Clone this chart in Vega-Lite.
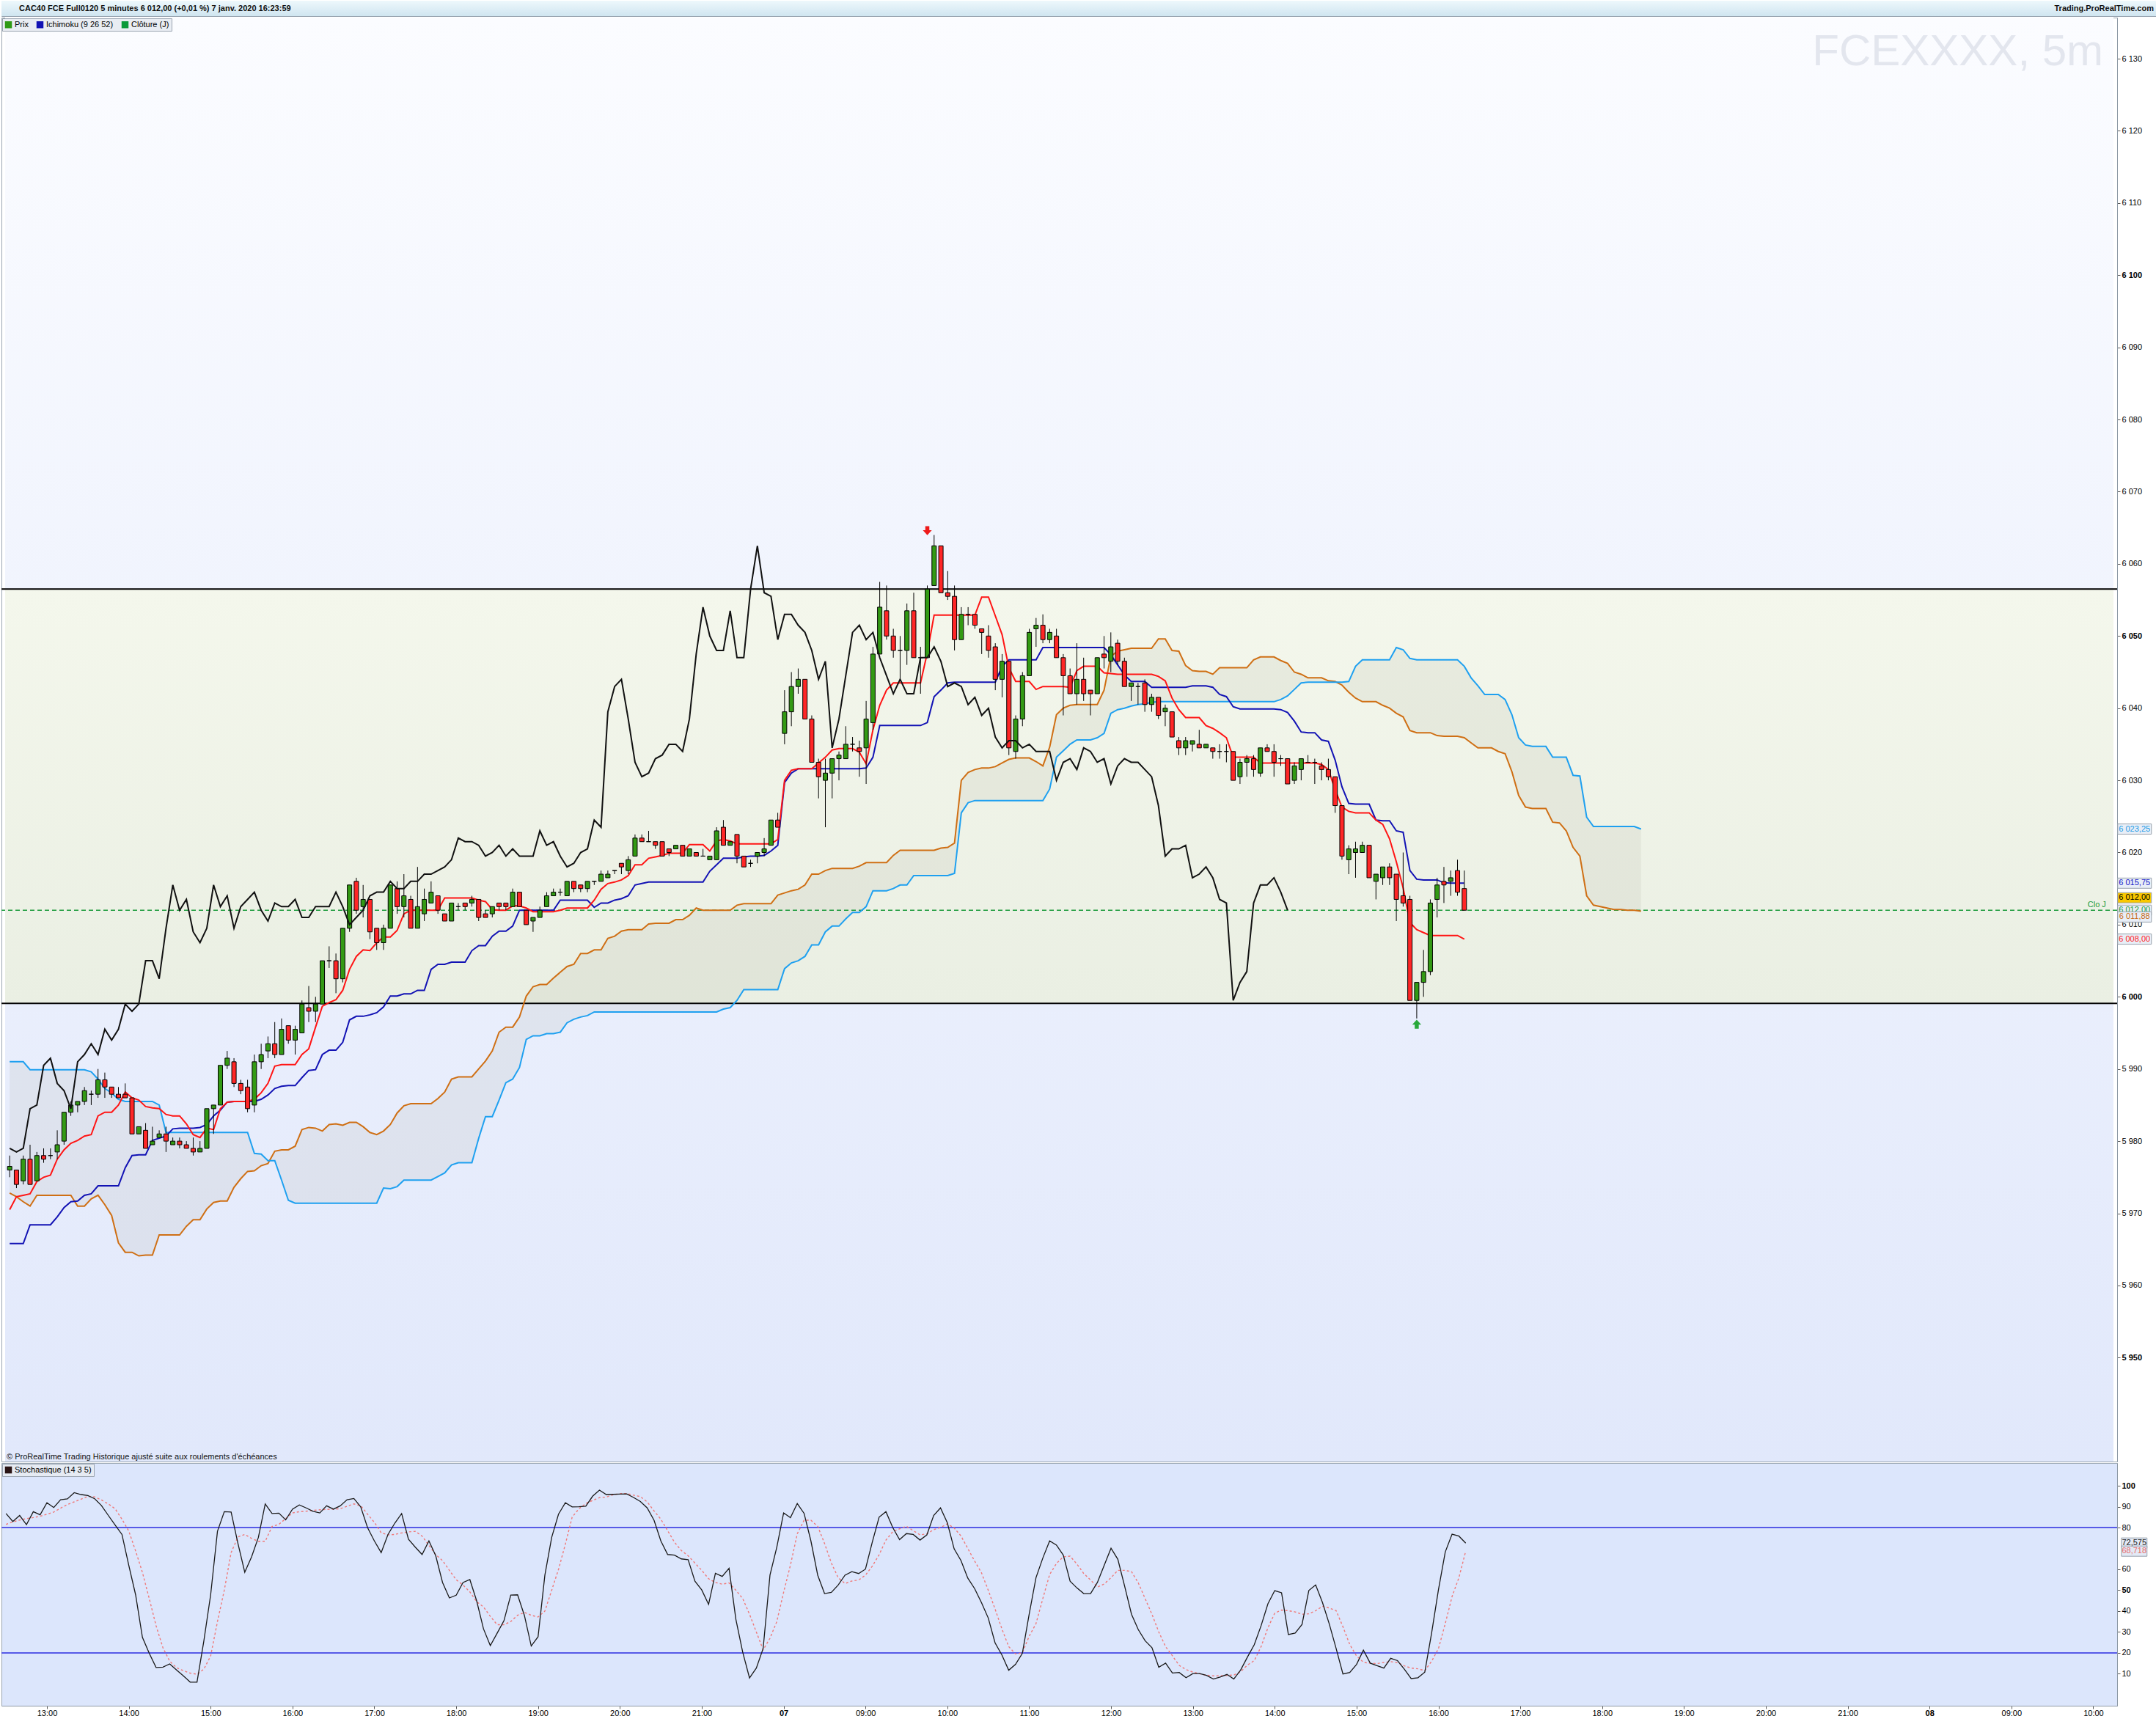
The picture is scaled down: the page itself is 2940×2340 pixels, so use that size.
{
  "$schema": "https://vega.github.io/schema/vega-lite/v6.json",
  "background": "#ffffff",
  "padding": 0,
  "spacing": 0,
  "config": {
    "font": "Liberation Sans",
    "locale": {"number": {"decimal": ",", "thousands": " ", "grouping": [3], "currency": ["", " €"]}},
    "view": {"stroke": null},
    "axis": {"grid": false, "labelFont": "Liberation Sans", "labelFontSize": 11, "labelColor": "#000000", "domainColor": "#8e9aa6", "tickColor": "#5a5a5a", "tickSize": 4, "labelPadding": 2}
  },
  "resolve": {
    "scale": {"x": "independent", "y": "independent", "color": "independent", "fill": "independent"},
    "axis": {"x": "independent", "y": "independent"},
    "legend": {"color": "independent"}
  },
  "datasets": {
    "bars": [
{"i":0,"o":5976,"h":5978,"l":5975,"c":5976.5,"t":5970.5,"k":5965.8,"a":5972.8,"b":5991,"ch":5979,"sk":86.7,"sd":81.5},
{"i":1,"o":5976,"h":5976,"l":5973.5,"c":5974,"t":5972.3,"k":5965.8,"a":5972.3,"b":5991,"ch":5978.5,"sk":82.9,"sd":82.7},
{"i":2,"o":5974.5,"h":5978,"l":5974,"c":5977.5,"t":5972.5,"k":5965.8,"a":5971.6,"b":5991,"ch":5979,"sk":85.8,"sd":83.6},
{"i":3,"o":5977.5,"h":5979.5,"l":5974,"c":5974,"t":5972.7,"k":5968.4,"a":5971,"b":5989.9,"ch":5984.5,"sk":81.4,"sd":84.3},
{"i":4,"o":5974.5,"h":5978.5,"l":5974.5,"c":5978,"t":5974.4,"k":5968.4,"a":5972.5,"b":5989.9,"ch":5985,"sk":87.6,"sd":84.8},
{"i":5,"o":5978,"h":5979,"l":5977,"c":5977.5,"t":5975,"k":5968.4,"a":5972.5,"b":5989.9,"ch":5990.5,"sk":86.1,"sd":85.4},
{"i":6,"o":5978,"h":5979,"l":5977.5,"c":5978,"t":5975.3,"k":5968.4,"a":5972.5,"b":5989.9,"ch":5991.5,"sk":91.9,"sd":86.4},
{"i":7,"o":5978.5,"h":5981.5,"l":5977.5,"c":5979.5,"t":5977.5,"k":5969.5,"a":5972.5,"b":5989.9,"ch":5988,"sk":89.6,"sd":87.4},
{"i":8,"o":5980,"h":5984,"l":5979.5,"c":5984,"t":5978.8,"k":5970.8,"a":5972.5,"b":5989.9,"ch":5987,"sk":93.3,"sd":89.3},
{"i":9,"o":5984,"h":5985.5,"l":5983.5,"c":5985,"t":5979.7,"k":5971.6,"a":5972.5,"b":5989.9,"ch":5984.5,"sk":93.7,"sd":91},
{"i":10,"o":5985,"h":5985.5,"l":5984,"c":5985.5,"t":5980.1,"k":5971.7,"a":5971,"b":5989.9,"ch":5991,"sk":96.7,"sd":92.3},
{"i":11,"o":5985.5,"h":5987.5,"l":5985,"c":5987,"t":5980.7,"k":5972.5,"a":5971,"b":5989.9,"ch":5992,"sk":95.8,"sd":93.6},
{"i":12,"o":5986.5,"h":5987,"l":5985,"c":5986.5,"t":5980.9,"k":5972.7,"a":5972,"b":5989.6,"ch":5993.5,"sk":95.3,"sd":94.9},
{"i":13,"o":5986.5,"h":5990,"l":5986,"c":5988.5,"t":5983.5,"k":5973.8,"a":5972.5,"b":5988.6,"ch":5992,"sk":93.8,"sd":94.7},
{"i":14,"o":5988.5,"h":5989.5,"l":5986,"c":5987.5,"t":5984,"k":5973.8,"a":5971.2,"b":5987.3,"ch":5995.5,"sk":90.5,"sd":93.2},
{"i":15,"o":5987.5,"h":5987.5,"l":5986,"c":5986.5,"t":5984,"k":5973.8,"a":5969.7,"b":5986.7,"ch":5994,"sk":85.8,"sd":91.3},
{"i":16,"o":5986.5,"h":5987.5,"l":5986,"c":5986,"t":5985,"k":5973.8,"a":5965.9,"b":5985.8,"ch":5995.5,"sk":81.2,"sd":89},
{"i":17,"o":5986.5,"h":5988,"l":5986,"c":5986,"t":5986.8,"k":5976.3,"a":5964.6,"b":5985.5,"ch":5999,"sk":76.7,"sd":84},
{"i":18,"o":5986,"h":5986,"l":5981,"c":5981,"t":5986,"k":5978,"a":5964.6,"b":5985.5,"ch":5998,"sk":61.9,"sd":78.3},
{"i":19,"o":5981,"h":5982,"l":5981,"c":5982,"t":5985.7,"k":5978.1,"a":5964.1,"b":5985.5,"ch":5999,"sk":47.8,"sd":68.8},
{"i":20,"o":5981.5,"h":5982.5,"l":5979,"c":5979,"t":5984.8,"k":5978.1,"a":5964.2,"b":5985.5,"ch":6005,"sk":27.4,"sd":58.5},
{"i":21,"o":5979.5,"h":5982,"l":5979.5,"c":5980,"t":5984.6,"k":5980.1,"a":5964.2,"b":5985.5,"ch":6005,"sk":19.8,"sd":46},
{"i":22,"o":5980.5,"h":5981.5,"l":5980.5,"c":5981,"t":5984.5,"k":5980.4,"a":5967,"b":5985,"ch":6002.5,"sk":13,"sd":33},
{"i":23,"o":5981,"h":5982,"l":5978.5,"c":5980,"t":5983.7,"k":5980.7,"a":5967,"b":5981.2,"ch":6009.5,"sk":13.2,"sd":22.5},
{"i":24,"o":5979.5,"h":5980.5,"l":5979.5,"c":5980,"t":5983.5,"k":5981.7,"a":5967,"b":5981.2,"ch":6015.5,"sk":14.7,"sd":16},
{"i":25,"o":5980,"h":5980.5,"l":5979,"c":5979.5,"t":5983.5,"k":5981.8,"a":5967,"b":5981.2,"ch":6012,"sk":11.8,"sd":12.9},
{"i":26,"o":5979.5,"h":5980,"l":5979,"c":5979,"t":5982.4,"k":5981.8,"a":5968.2,"b":5981.2,"ch":6013.5,"sk":9,"sd":11.5},
{"i":27,"o":5979,"h":5980.5,"l":5978,"c":5978.5,"t":5980.9,"k":5981.8,"a":5969.1,"b":5981.2,"ch":6009,"sk":6,"sd":10.3},
{"i":28,"o":5978.5,"h":5980,"l":5978.5,"c":5979,"t":5980.5,"k":5981.9,"a":5969.1,"b":5981.2,"ch":6007.5,"sk":6,"sd":9.8},
{"i":29,"o":5979,"h":5984.5,"l":5979,"c":5984.5,"t":5981.8,"k":5982.3,"a":5970.6,"b":5981.2,"ch":6009.5,"sk":25.6,"sd":12.2},
{"i":30,"o":5984.5,"h":5985,"l":5981,"c":5985,"t":5981.6,"k":5983.5,"a":5971.5,"b":5981.2,"ch":6015.5,"sk":47.8,"sd":18.5},
{"i":31,"o":5985,"h":5990.5,"l":5985,"c":5990.5,"t":5984.5,"k":5984.3,"a":5971.7,"b":5981.2,"ch":6012.5,"sk":78.2,"sd":35},
{"i":32,"o":5990.5,"h":5992.5,"l":5990,"c":5991.5,"t":5985.4,"k":5985.4,"a":5971.7,"b":5981.2,"ch":6014,"sk":87.6,"sd":50},
{"i":33,"o":5991,"h":5991.5,"l":5987.5,"c":5988,"t":5985.5,"k":5985.5,"a":5973.6,"b":5981.2,"ch":6009.5,"sk":87.4,"sd":68},
{"i":34,"o":5988,"h":5988.5,"l":5986.5,"c":5987,"t":5985.5,"k":5985.5,"a":5974.8,"b":5981.2,"ch":6012.5,"sk":72.4,"sd":75.5},
{"i":35,"o":5987.5,"h":5988.5,"l":5984,"c":5984.5,"t":5985.5,"k":5985.5,"a":5975.8,"b":5981.2,"ch":6013.5,"sk":58.6,"sd":76.7},
{"i":36,"o":5985,"h":5992,"l":5984,"c":5991,"t":5985.8,"k":5985.5,"a":5975.9,"b":5978.3,"ch":6014.5,"sk":66,"sd":74.8},
{"i":37,"o":5991,"h":5993.5,"l":5990,"c":5992,"t":5986.7,"k":5985.8,"a":5976.6,"b":5978.2,"ch":6012,"sk":75.3,"sd":73.4},
{"i":38,"o":5992.5,"h":5994.5,"l":5991.5,"c":5993.5,"t":5988,"k":5986.4,"a":5976.9,"b":5977.3,"ch":6010.5,"sk":91.3,"sd":73.4},
{"i":39,"o":5993.5,"h":5996.5,"l":5991.5,"c":5992,"t":5990.4,"k":5987.3,"a":5978.6,"b":5977.3,"ch":6013,"sk":86.7,"sd":80.5},
{"i":40,"o":5992,"h":5997,"l":5992,"c":5995.5,"t":5990.6,"k":5987.6,"a":5978.8,"b":5974.6,"ch":6012.5,"sk":86.9,"sd":81.5},
{"i":41,"o":5996,"h":5996,"l":5993.5,"c":5994,"t":5990.6,"k":5987.7,"a":5978.8,"b":5971.8,"ch":6012.5,"sk":83.7,"sd":84.3},
{"i":42,"o":5994,"h":5996,"l":5992,"c":5995.5,"t":5990.6,"k":5987.7,"a":5979.3,"b":5971.4,"ch":6013.5,"sk":88.8,"sd":87},
{"i":43,"o":5995,"h":5999.5,"l":5995,"c":5999,"t":5992,"k":5988.8,"a":5981.6,"b":5971.4,"ch":6011,"sk":90.8,"sd":87.6},
{"i":44,"o":5998.5,"h":6001.5,"l":5996.5,"c":5998,"t":5992.8,"k":5989.8,"a":5981.9,"b":5971.4,"ch":6011,"sk":89.4,"sd":87.8},
{"i":45,"o":5998,"h":6000,"l":5996.5,"c":5999,"t":5995.8,"k":5989.9,"a":5981.8,"b":5971.4,"ch":6012.5,"sk":87.8,"sd":88.2},
{"i":46,"o":5999,"h":6005,"l":5999,"c":6005,"t":5998.7,"k":5992,"a":5981.4,"b":5971.4,"ch":6012.5,"sk":87,"sd":88.5},
{"i":47,"o":6005,"h":6007,"l":6004,"c":6005,"t":5999.2,"k":5992.6,"a":5982.3,"b":5971.4,"ch":6012.5,"sk":90.4,"sd":88.7},
{"i":48,"o":6005,"h":6006,"l":6000.5,"c":6002.5,"t":5999.6,"k":5992.6,"a":5982.4,"b":5971.4,"ch":6014.5,"sk":88.8,"sd":88.8},
{"i":49,"o":6002.5,"h":6009.5,"l":6002,"c":6009.5,"t":6000.9,"k":5993.7,"a":5982.2,"b":5971.4,"ch":6012.5,"sk":90.4,"sd":89},
{"i":50,"o":6009.5,"h":6015.5,"l":6009,"c":6015.5,"t":6003.8,"k":5996.8,"a":5982.6,"b":5971.4,"ch":6010,"sk":93.3,"sd":90.2},
{"i":51,"o":6016,"h":6016.5,"l":6011.5,"c":6012,"t":6005.6,"k":5997.3,"a":5982.6,"b":5971.4,"ch":6011,"sk":93.9,"sd":91.3},
{"i":52,"o":6012.5,"h":6015.5,"l":6011,"c":6013.5,"t":6006.5,"k":5997.3,"a":5982,"b":5971.4,"ch":6012,"sk":89.9,"sd":90.5},
{"i":53,"o":6013.5,"h":6013.5,"l":6008,"c":6009,"t":6006.4,"k":5997.5,"a":5981.2,"b":5971.4,"ch":6014,"sk":80,"sd":86.4},
{"i":54,"o":6009.5,"h":6009.5,"l":6006.5,"c":6007.5,"t":6007.5,"k":5997.8,"a":5980.9,"b":5971.4,"ch":6014.5,"sk":73.6,"sd":82.5},
{"i":55,"o":6007.5,"h":6010,"l":6006.5,"c":6009.5,"t":6008.3,"k":5998.6,"a":5981.4,"b":5973.5,"ch":6014.5,"sk":68,"sd":77.5},
{"i":56,"o":6009.5,"h":6015.5,"l":6009.5,"c":6015.5,"t":6008.3,"k":6000.1,"a":5982.3,"b":5973.4,"ch":6016,"sk":76.7,"sd":76.5},
{"i":57,"o":6015,"h":6016,"l":6011.5,"c":6012.5,"t":6009.2,"k":6000.1,"a":5983.9,"b":5973.7,"ch":6015,"sk":82.1,"sd":76.7},
{"i":58,"o":6012.5,"h":6017,"l":6011,"c":6014,"t":6011.5,"k":6000.4,"a":5984.9,"b":5974.6,"ch":6015,"sk":86.7,"sd":77.4},
{"i":59,"o":6013.5,"h":6014,"l":6009.5,"c":6009.5,"t":6012,"k":6000.4,"a":5985.2,"b":5974.6,"ch":6016,"sk":74.4,"sd":77.9},
{"i":60,"o":6009.5,"h":6018,"l":6009.5,"c":6012.5,"t":6012,"k":6000.9,"a":5985.2,"b":5974.6,"ch":6016,"sk":70.6,"sd":78.2},
{"i":61,"o":6011.5,"h":6015,"l":6010.5,"c":6013.5,"t":6012,"k":6000.9,"a":5985.2,"b":5974.6,"ch":6017,"sk":67.1,"sd":75.9},
{"i":62,"o":6013,"h":6016,"l":6013,"c":6014.5,"t":6012,"k":6003.8,"a":5985.2,"b":5974.6,"ch":6017,"sk":73.6,"sd":71.5},
{"i":63,"o":6014,"h":6014,"l":6011.5,"c":6012,"t":6012,"k":6004.5,"a":5985.9,"b":5975.1,"ch":6017.5,"sk":66.5,"sd":67},
{"i":64,"o":6011.5,"h":6011.5,"l":6010.5,"c":6010.5,"t":6013.7,"k":6004.5,"a":5986.8,"b":5975.6,"ch":6018,"sk":53.7,"sd":64.2},
{"i":65,"o":6010.5,"h":6013,"l":6010.5,"c":6013,"t":6013.7,"k":6004.8,"a":5988.6,"b":5976.7,"ch":6019,"sk":46.3,"sd":59.5},
{"i":66,"o":6012.5,"h":6013,"l":6012,"c":6012.5,"t":6013.7,"k":6004.8,"a":5988.9,"b":5977,"ch":6022,"sk":47.6,"sd":55},
{"i":67,"o":6013,"h":6013,"l":6012,"c":6012.5,"t":6013.7,"k":6004.8,"a":5988.9,"b":5977,"ch":6021.5,"sk":53.7,"sd":52.5},
{"i":68,"o":6013,"h":6014,"l":6012.5,"c":6013.5,"t":6013.7,"k":6006.4,"a":5988.9,"b":5977,"ch":6021.5,"sk":55.1,"sd":49.2},
{"i":69,"o":6013.5,"h":6013.5,"l":6010.5,"c":6011,"t":6013.4,"k":6007.1,"a":5990,"b":5980.4,"ch":6021,"sk":44.9,"sd":44.5},
{"i":70,"o":6011.5,"h":6012,"l":6011,"c":6011,"t":6013.2,"k":6007.1,"a":5991.1,"b":5983.4,"ch":6019.5,"sk":31.5,"sd":42},
{"i":71,"o":6011.5,"h":6012.5,"l":6011,"c":6012.5,"t":6012.1,"k":6008.4,"a":5992.5,"b":5983.4,"ch":6020,"sk":23.5,"sd":37.5},
{"i":72,"o":6013,"h":6013,"l":6012,"c":6012.5,"t":6012,"k":6009.1,"a":5995.1,"b":5985.7,"ch":6021,"sk":29.4,"sd":33.5},
{"i":73,"o":6013,"h":6013,"l":6012,"c":6012.5,"t":6012,"k":6009.1,"a":5995.8,"b":5988.1,"ch":6019.5,"sk":35.4,"sd":33.5},
{"i":74,"o":6012.5,"h":6015,"l":6012.5,"c":6014.5,"t":6012.6,"k":6009.8,"a":5995.8,"b":5988.6,"ch":6020.5,"sk":47.7,"sd":35},
{"i":75,"o":6014.5,"h":6014.5,"l":6012.5,"c":6012.5,"t":6012.6,"k":6012,"a":5997.2,"b":5990.2,"ch":6019.5,"sk":47.8,"sd":38},
{"i":76,"o":6012,"h":6012,"l":6010,"c":6010,"t":6012.3,"k":6012,"a":6000.1,"b":5994.1,"ch":6019.5,"sk":37.9,"sd":39.4},
{"i":77,"o":6010.5,"h":6011,"l":6009,"c":6011,"t":6011.8,"k":6012,"a":6001.4,"b":5994.6,"ch":6019.5,"sk":23.3,"sd":38},
{"i":78,"o":6011,"h":6012.5,"l":6011,"c":6012,"t":6011.8,"k":6012,"a":6001.7,"b":5994.6,"ch":6023,"sk":27.7,"sd":37.2},
{"i":79,"o":6012.5,"h":6014.5,"l":6012.5,"c":6014,"t":6011.8,"k":6012,"a":6001.7,"b":5994.9,"ch":6021,"sk":57.2,"sd":40},
{"i":80,"o":6014,"h":6015,"l":6014,"c":6014.5,"t":6011.8,"k":6012,"a":6002.6,"b":5994.9,"ch":6021.5,"sk":75.3,"sd":50},
{"i":81,"o":6014.5,"h":6015,"l":6014,"c":6014.5,"t":6012,"k":6013.4,"a":6003.4,"b":5995.1,"ch":6019.5,"sk":86.4,"sd":60},
{"i":82,"o":6014,"h":6016,"l":6014,"c":6016,"t":6012.3,"k":6013.4,"a":6004.2,"b":5996.4,"ch":6018,"sk":91.9,"sd":72},
{"i":83,"o":6016,"h":6016,"l":6014.5,"c":6015,"t":6012.3,"k":6013.4,"a":6004.5,"b":5996.9,"ch":6018.5,"sk":89.9,"sd":85},
{"i":84,"o":6015.5,"h":6015.5,"l":6014.5,"c":6015,"t":6012.3,"k":6013.4,"a":6006,"b":5997.2,"ch":6020,"sk":90,"sd":89},
{"i":85,"o":6015,"h":6016,"l":6014.5,"c":6016,"t":6012.3,"k":6013.4,"a":6006,"b":5997.4,"ch":6020.5,"sk":90.2,"sd":91.5},
{"i":86,"o":6016,"h":6016,"l":6015.5,"c":6016,"t":6013.4,"k":6012.4,"a":6006.5,"b":5997.9,"ch":6024.5,"sk":95,"sd":93},
{"i":87,"o":6016,"h":6017.5,"l":6016,"c":6017,"t":6014.9,"k":6013,"a":6006.5,"b":5997.9,"ch":6023.5,"sk":97.9,"sd":94.3},
{"i":88,"o":6016.5,"h":6017.5,"l":6016.5,"c":6017,"t":6015.7,"k":6013,"a":6008.1,"b":5997.9,"ch":6039.5,"sk":95.8,"sd":94.6},
{"i":89,"o":6017.5,"h":6017.5,"l":6017,"c":6017.5,"t":6015.9,"k":6013.4,"a":6008.4,"b":5997.9,"ch":6043,"sk":95.9,"sd":95.7},
{"i":90,"o":6018.5,"h":6018.5,"l":6017,"c":6018,"t":6016.2,"k":6013.6,"a":6009.1,"b":5997.9,"ch":6044,"sk":96,"sd":96.2},
{"i":91,"o":6017.5,"h":6019.5,"l":6017,"c":6019,"t":6016.8,"k":6014,"a":6009.3,"b":5997.9,"ch":6038.5,"sk":96.1,"sd":96.3},
{"i":92,"o":6019.5,"h":6022.5,"l":6019.5,"c":6022,"t":6018.3,"k":6015.5,"a":6009.3,"b":5997.9,"ch":6032.5,"sk":94.4,"sd":95.5},
{"i":93,"o":6022,"h":6022.5,"l":6021.5,"c":6021.5,"t":6018.3,"k":6015.7,"a":6009.3,"b":5997.9,"ch":6030.5,"sk":92.5,"sd":94.8},
{"i":94,"o":6021.5,"h":6023,"l":6021.5,"c":6021.5,"t":6019.2,"k":6015.9,"a":6010.1,"b":5997.9,"ch":6031,"sk":89.4,"sd":92.3},
{"i":95,"o":6021.5,"h":6021.5,"l":6020.5,"c":6021,"t":6019.4,"k":6015.9,"a":6010.2,"b":5997.9,"ch":6033,"sk":83.5,"sd":88},
{"i":96,"o":6021.5,"h":6021.5,"l":6019.5,"c":6019.5,"t":6019.6,"k":6015.9,"a":6010.2,"b":5997.9,"ch":6033.5,"sk":73.6,"sd":84},
{"i":97,"o":6020.5,"h":6020.5,"l":6019.5,"c":6020,"t":6019.9,"k":6015.9,"a":6010.2,"b":5997.9,"ch":6035,"sk":67.1,"sd":78.5},
{"i":98,"o":6020.5,"h":6021,"l":6020.5,"c":6021,"t":6019.9,"k":6015.9,"a":6010.7,"b":5997.9,"ch":6035,"sk":66.8,"sd":73},
{"i":99,"o":6021,"h":6021,"l":6019.5,"c":6019.5,"t":6019.9,"k":6015.9,"a":6010.7,"b":5997.9,"ch":6034,"sk":65,"sd":69},
{"i":100,"o":6019.5,"h":6020.5,"l":6019.5,"c":6020.5,"t":6021.1,"k":6015.9,"a":6011.3,"b":5997.9,"ch":6038.5,"sk":64.6,"sd":66.5},
{"i":101,"o":6020,"h":6020,"l":6019.5,"c":6019.5,"t":6021.1,"k":6015.9,"a":6012.3,"b":5997.9,"ch":6047.5,"sk":54.3,"sd":63},
{"i":102,"o":6019.5,"h":6020.5,"l":6019.5,"c":6019.5,"t":6021.1,"k":6015.9,"a":6012,"b":5997.9,"ch":6054,"sk":50.1,"sd":59.5},
{"i":103,"o":6019,"h":6019.5,"l":6019,"c":6019.5,"t":6020.2,"k":6017.4,"a":6012,"b":5997.9,"ch":6050,"sk":43.2,"sd":55.5},
{"i":104,"o":6019,"h":6023.5,"l":6019,"c":6023,"t":6021.6,"k":6018.3,"a":6012,"b":5997.9,"ch":6048,"sk":58.1,"sd":53.7},
{"i":105,"o":6023.5,"h":6024.5,"l":6021,"c":6021,"t":6021.8,"k":6019.2,"a":6012,"b":5998.3,"ch":6048,"sk":56.6,"sd":52.9},
{"i":106,"o":6021,"h":6021.5,"l":6021,"c":6021.5,"t":6021.6,"k":6019.2,"a":6012,"b":5998.5,"ch":6053.5,"sk":60.5,"sd":53.5},
{"i":107,"o":6022.5,"h":6022.5,"l":6018.5,"c":6019.5,"t":6021.2,"k":6019.2,"a":6012.7,"b":5999.5,"ch":6047,"sk":36.1,"sd":50},
{"i":108,"o":6019.5,"h":6019.5,"l":6018,"c":6018,"t":6021.2,"k":6019.4,"a":6012.9,"b":6001,"ch":6047,"sk":20.4,"sd":46},
{"i":109,"o":6018.5,"h":6019,"l":6018,"c":6018.5,"t":6021.2,"k":6019.5,"a":6012.9,"b":6001,"ch":6056.5,"sk":8,"sd":38.5},
{"i":110,"o":6019.5,"h":6020,"l":6018.5,"c":6020,"t":6021.2,"k":6019.5,"a":6012.9,"b":6001,"ch":6062.5,"sk":12.7,"sd":30},
{"i":111,"o":6020,"h":6022,"l":6019.5,"c":6020.5,"t":6021.2,"k":6019.6,"a":6012.9,"b":6001,"ch":6056,"sk":22.1,"sd":21.5},
{"i":112,"o":6021,"h":6024.5,"l":6021,"c":6024.5,"t":6021.2,"k":6020.2,"a":6012.9,"b":6001,"ch":6055.5,"sk":57.2,"sd":27},
{"i":113,"o":6024.5,"h":6025.5,"l":6023.5,"c":6023.5,"t":6021.8,"k":6021,"a":6014.1,"b":6001,"ch":6049.5,"sk":70.6,"sd":35},
{"i":114,"o":6036.5,"h":6042.5,"l":6035,"c":6039.5,"t":6030,"k":6029.7,"a":6014.4,"b":6003.9,"ch":6053,"sk":87,"sd":49},
{"i":115,"o":6039.5,"h":6045,"l":6037.5,"c":6043,"t":6031.4,"k":6031,"a":6014.7,"b":6004.7,"ch":6053,"sk":84.7,"sd":62},
{"i":116,"o":6043,"h":6045.5,"l":6042,"c":6044,"t":6031.6,"k":6031.6,"a":6014.9,"b":6005,"ch":6051.5,"sk":91.5,"sd":77},
{"i":117,"o":6044,"h":6044,"l":6038.5,"c":6038.5,"t":6031.6,"k":6031.6,"a":6015.5,"b":6005.6,"ch":6050.5,"sk":86.8,"sd":83.5},
{"i":118,"o":6038.5,"h":6039,"l":6032.5,"c":6032.5,"t":6031.6,"k":6031.6,"a":6017,"b":6007.2,"ch":6048,"sk":73.6,"sd":83.5},
{"i":119,"o":6032.5,"h":6033,"l":6027.5,"c":6030.5,"t":6032.4,"k":6031.6,"a":6017,"b":6007.2,"ch":6044,"sk":57.2,"sd":80.6},
{"i":120,"o":6030,"h":6033,"l":6023.5,"c":6031,"t":6033.2,"k":6031.6,"a":6017.5,"b":6009,"ch":6046.5,"sk":48.4,"sd":72.4},
{"i":121,"o":6031,"h":6033,"l":6027.5,"c":6033,"t":6034.2,"k":6031.6,"a":6017.8,"b":6009.8,"ch":6034.5,"sk":49,"sd":63},
{"i":122,"o":6033,"h":6034,"l":6030,"c":6033.5,"t":6034.4,"k":6031.6,"a":6017.8,"b":6009.8,"ch":6038.5,"sk":52.5,"sd":56},
{"i":123,"o":6033,"h":6037.5,"l":6033,"c":6035,"t":6034.4,"k":6031.6,"a":6017.8,"b":6010.8,"ch":6044.5,"sk":57.2,"sd":53.2},
{"i":124,"o":6035,"h":6036,"l":6034,"c":6035,"t":6034.4,"k":6031.6,"a":6017.8,"b":6011.7,"ch":6050.5,"sk":58.9,"sd":54.4},
{"i":125,"o":6034.5,"h":6035.5,"l":6030.5,"c":6034,"t":6033.9,"k":6031.6,"a":6018.1,"b":6011.7,"ch":6051.5,"sk":58,"sd":54.9},
{"i":126,"o":6034.5,"h":6041,"l":6029.5,"c":6038.5,"t":6032.3,"k":6031.7,"a":6018.6,"b":6012.5,"ch":6049.5,"sk":60.1,"sd":57.2},
{"i":127,"o":6038,"h":6048.5,"l":6037,"c":6047.5,"t":6037,"k":6033.2,"a":6018.6,"b":6014.7,"ch":6050.5,"sk":73,"sd":61.5},
{"i":128,"o":6047.5,"h":6057.5,"l":6047.5,"c":6054,"t":6040.4,"k":6037.6,"a":6018.6,"b":6014.7,"ch":6047,"sk":85,"sd":67},
{"i":129,"o":6053.5,"h":6057,"l":6049.5,"c":6050,"t":6042.5,"k":6037.6,"a":6018.6,"b":6014.7,"ch":6044.5,"sk":87.6,"sd":74},
{"i":130,"o":6050,"h":6051,"l":6047,"c":6048,"t":6043.5,"k":6037.6,"a":6019.6,"b":6015,"ch":6042,"sk":80,"sd":78},
{"i":131,"o":6048,"h":6050,"l":6044,"c":6048,"t":6043.5,"k":6037.6,"a":6020.3,"b":6015.5,"ch":6044,"sk":74.2,"sd":79.4},
{"i":132,"o":6048,"h":6054.5,"l":6046,"c":6053.5,"t":6043.5,"k":6037.6,"a":6020.3,"b":6015.5,"ch":6042,"sk":77.1,"sd":80.6},
{"i":133,"o":6053.5,"h":6056,"l":6047,"c":6047,"t":6043.5,"k":6037.6,"a":6020.3,"b":6016.8,"ch":6042,"sk":76.7,"sd":78.5},
{"i":134,"o":6047,"h":6048.5,"l":6042,"c":6047,"t":6043.5,"k":6037.6,"a":6020.3,"b":6016.8,"ch":6047,"sk":74,"sd":76.5},
{"i":135,"o":6047,"h":6057,"l":6047,"c":6056.5,"t":6047.7,"k":6038,"a":6020.3,"b":6016.8,"ch":6047,"sk":76.5,"sd":77},
{"i":136,"o":6057,"h":6064,"l":6057,"c":6062.5,"t":6052.9,"k":6041.6,"a":6020.3,"b":6016.8,"ch":6048.5,"sk":85.8,"sd":79},
{"i":137,"o":6062.5,"h":6062.5,"l":6056,"c":6056,"t":6052.9,"k":6042.5,"a":6020.6,"b":6016.8,"ch":6046.5,"sk":89.4,"sd":80},
{"i":138,"o":6056,"h":6059,"l":6055,"c":6055.5,"t":6052.9,"k":6043.5,"a":6020.7,"b":6016.8,"ch":6043,"sk":82.3,"sd":81.8},
{"i":139,"o":6055.5,"h":6057,"l":6048,"c":6049.5,"t":6052.9,"k":6043.6,"a":6021.3,"b":6017.1,"ch":6043.5,"sk":69.8,"sd":79.8},
{"i":140,"o":6049.5,"h":6054,"l":6049.5,"c":6053,"t":6052.9,"k":6043.6,"a":6030,"b":6025.5,"ch":6043,"sk":64.2,"sd":76},
{"i":141,"o":6053,"h":6054,"l":6051.5,"c":6053,"t":6052.9,"k":6043.6,"a":6031.1,"b":6026.9,"ch":6040.5,"sk":55.8,"sd":70},
{"i":142,"o":6053,"h":6053,"l":6051,"c":6051.5,"t":6052.9,"k":6043.6,"a":6031.5,"b":6027.2,"ch":6041.5,"sk":50.8,"sd":64},
{"i":143,"o":6051,"h":6051,"l":6047.5,"c":6050.5,"t":6055.4,"k":6043.6,"a":6031.7,"b":6027.2,"ch":6039,"sk":44.1,"sd":58.4},
{"i":144,"o":6050,"h":6051.5,"l":6047,"c":6048,"t":6055.4,"k":6043.6,"a":6031.7,"b":6027.2,"ch":6040,"sk":36.7,"sd":50},
{"i":145,"o":6048.5,"h":6049,"l":6042.5,"c":6044,"t":6052.8,"k":6043.6,"a":6031.9,"b":6027.2,"ch":6036,"sk":24.8,"sd":41},
{"i":146,"o":6044,"h":6047.5,"l":6041.5,"c":6046.5,"t":6050.2,"k":6045.8,"a":6032.4,"b":6027.2,"ch":6034.5,"sk":19,"sd":31.5},
{"i":147,"o":6046.5,"h":6046.5,"l":6033.5,"c":6034.5,"t":6045.6,"k":6046.7,"a":6032.9,"b":6027.2,"ch":6035.5,"sk":11.7,"sd":23},
{"i":148,"o":6034,"h":6039,"l":6033,"c":6038.5,"t":6043.7,"k":6046.7,"a":6033.1,"b":6027.2,"ch":6035.5,"sk":14.5,"sd":19.5},
{"i":149,"o":6038.5,"h":6045,"l":6037.5,"c":6044.5,"t":6043.7,"k":6046.7,"a":6033.1,"b":6027.2,"ch":6034.5,"sk":19.8,"sd":20},
{"i":150,"o":6044.5,"h":6051,"l":6044.5,"c":6050.5,"t":6043.7,"k":6046.7,"a":6033.1,"b":6027.2,"ch":6035,"sk":38.5,"sd":28},
{"i":151,"o":6051,"h":6052.5,"l":6048.5,"c":6051.5,"t":6042.6,"k":6046.7,"a":6032.6,"b":6027.2,"ch":6034,"sk":56,"sd":34},
{"i":152,"o":6051.5,"h":6053,"l":6049,"c":6049.5,"t":6043,"k":6048.4,"a":6032,"b":6027.2,"ch":6034,"sk":65.4,"sd":46},
{"i":153,"o":6049.5,"h":6051,"l":6049,"c":6050.5,"t":6043,"k":6048.4,"a":6034.6,"b":6028.8,"ch":6034,"sk":73.6,"sd":57.5},
{"i":154,"o":6050,"h":6051,"l":6047,"c":6047,"t":6043,"k":6048.4,"a":6039.1,"b":6033.2,"ch":6030,"sk":71.6,"sd":62.8},
{"i":155,"o":6047,"h":6047.5,"l":6039,"c":6044.5,"t":6043,"k":6048.4,"a":6040,"b":6034.1,"ch":6032.5,"sk":66.8,"sd":66},
{"i":156,"o":6044.5,"h":6045.5,"l":6042,"c":6042,"t":6042.9,"k":6048.4,"a":6040.4,"b":6035,"ch":6033,"sk":54.3,"sd":66.3},
{"i":157,"o":6042,"h":6049,"l":6040.5,"c":6044,"t":6045.2,"k":6048.4,"a":6040.5,"b":6035.6,"ch":6031.5,"sk":51.1,"sd":62.5},
{"i":158,"o":6044,"h":6047,"l":6041,"c":6042,"t":6045.8,"k":6048.4,"a":6040.5,"b":6035.6,"ch":6034.5,"sk":48.4,"sd":58},
{"i":159,"o":6042.5,"h":6042.5,"l":6039,"c":6042,"t":6045.8,"k":6048.4,"a":6040.5,"b":6035.6,"ch":6034,"sk":48.4,"sd":54.9},
{"i":160,"o":6042,"h":6047,"l":6042,"c":6047,"t":6045.8,"k":6048.4,"a":6040.5,"b":6035.9,"ch":6032.5,"sk":53.7,"sd":51.5},
{"i":161,"o":6047.5,"h":6050,"l":6045.5,"c":6047,"t":6044.9,"k":6048.4,"a":6042.5,"b":6036.5,"ch":6033,"sk":61.9,"sd":53},
{"i":162,"o":6046.5,"h":6050.5,"l":6045,"c":6048.5,"t":6044.8,"k":6047.4,"a":6047.2,"b":6039.3,"ch":6029.5,"sk":70.1,"sd":56},
{"i":163,"o":6049,"h":6049.5,"l":6046,"c":6046.5,"t":6044.7,"k":6046,"a":6047.9,"b":6039.8,"ch":6032,"sk":64.8,"sd":59.5},
{"i":164,"o":6046.5,"h":6047,"l":6043,"c":6043,"t":6044.7,"k":6044.6,"a":6048.1,"b":6040,"ch":6033,"sk":51.9,"sd":59.5},
{"i":165,"o":6043,"h":6043.5,"l":6041,"c":6043.5,"t":6044.7,"k":6043.7,"a":6048.3,"b":6040.3,"ch":6032.5,"sk":38.5,"sd":58.9},
{"i":166,"o":6043,"h":6043.5,"l":6040.5,"c":6043,"t":6044.7,"k":6043.7,"a":6048.3,"b":6040.5,"ch":6032.5,"sk":31.1,"sd":53.5},
{"i":167,"o":6043.5,"h":6044,"l":6039.5,"c":6040.5,"t":6044.7,"k":6043.7,"a":6048.3,"b":6040.6,"ch":6031.5,"sk":25.8,"sd":46},
{"i":168,"o":6040.5,"h":6042,"l":6039.5,"c":6041.5,"t":6044.7,"k":6042.9,"a":6048.3,"b":6040.8,"ch":6030.5,"sk":22.5,"sd":38.5},
{"i":169,"o":6041.5,"h":6041.5,"l":6038.5,"c":6039,"t":6044.4,"k":6042.9,"a":6049.6,"b":6040.9,"ch":6026.5,"sk":13.1,"sd":30},
{"i":170,"o":6039.5,"h":6040.5,"l":6037.5,"c":6040,"t":6043.8,"k":6042.9,"a":6049.6,"b":6040.9,"ch":6019.5,"sk":15.1,"sd":23},
{"i":171,"o":6039.5,"h":6039.5,"l":6036,"c":6036,"t":6041.4,"k":6042.9,"a":6048,"b":6040.9,"ch":6020.5,"sk":10.4,"sd":18.6},
{"i":172,"o":6035.5,"h":6036,"l":6033.5,"c":6034.5,"t":6039.8,"k":6042.9,"a":6047.9,"b":6040.9,"ch":6020.5,"sk":10.6,"sd":14},
{"i":173,"o":6034.5,"h":6036,"l":6033.5,"c":6035.5,"t":6038.7,"k":6042.9,"a":6045.9,"b":6040.9,"ch":6021,"sk":8.1,"sd":12},
{"i":174,"o":6035,"h":6035.5,"l":6034,"c":6035.5,"t":6038.7,"k":6043.1,"a":6045.2,"b":6040.9,"ch":6016.5,"sk":10.1,"sd":10.8},
{"i":175,"o":6035,"h":6037,"l":6034.5,"c":6034.5,"t":6038.7,"k":6043.1,"a":6045.1,"b":6040.9,"ch":6017,"sk":10.1,"sd":10},
{"i":176,"o":6034.5,"h":6035,"l":6034.5,"c":6035,"t":6037.6,"k":6043.1,"a":6045.1,"b":6040.9,"ch":6018,"sk":9.2,"sd":9.3},
{"i":177,"o":6034.5,"h":6034.5,"l":6033,"c":6034,"t":6037.2,"k":6042.9,"a":6044.7,"b":6040.9,"ch":6016.5,"sk":7.5,"sd":9},
{"i":178,"o":6034,"h":6035,"l":6033,"c":6034,"t":6036.6,"k":6041.9,"a":6045.6,"b":6040.9,"ch":6013.5,"sk":8.4,"sd":9},
{"i":179,"o":6034,"h":6035,"l":6032.5,"c":6034,"t":6035.9,"k":6041.6,"a":6045.6,"b":6040.9,"ch":6013,"sk":9.7,"sd":9.2},
{"i":180,"o":6034,"h":6034,"l":6030,"c":6030,"t":6033.2,"k":6040.2,"a":6045.6,"b":6040.9,"ch":5999.5,"sk":7.5,"sd":9.4},
{"i":181,"o":6030.5,"h":6033,"l":6029.5,"c":6032.5,"t":6033.2,"k":6039.9,"a":6045.6,"b":6040.9,"ch":6002,"sk":11.8,"sd":11},
{"i":182,"o":6032.5,"h":6033.5,"l":6030.5,"c":6033,"t":6033.2,"k":6039.9,"a":6045.6,"b":6040.9,"ch":6003.5,"sk":18,"sd":14.2},
{"i":183,"o":6033,"h":6033.5,"l":6030.5,"c":6031.5,"t":6033.2,"k":6039.9,"a":6046.7,"b":6040.9,"ch":6013,"sk":23.9,"sd":16.3},
{"i":184,"o":6031,"h":6034.5,"l":6030.5,"c":6034.5,"t":6032.4,"k":6039.9,"a":6047.1,"b":6040.9,"ch":6015.5,"sk":33,"sd":23},
{"i":185,"o":6034.5,"h":6035,"l":6034,"c":6034,"t":6032.4,"k":6039.9,"a":6047.1,"b":6040.9,"ch":6015.5,"sk":43.5,"sd":32},
{"i":186,"o":6034,"h":6035,"l":6030.5,"c":6032.5,"t":6032.4,"k":6039.9,"a":6047.1,"b":6040.9,"ch":6016.5,"sk":49.8,"sd":39},
{"i":187,"o":6033,"h":6033.5,"l":6032,"c":6033,"t":6032.4,"k":6039.8,"a":6046.6,"b":6041.2,"ch":6014.5,"sk":48.8,"sd":40.5},
{"i":188,"o":6033,"h":6033,"l":6029.5,"c":6029.5,"t":6032.4,"k":6039.4,"a":6046.2,"b":6041.7,"ch":6012,"sk":28.8,"sd":40.2},
{"i":189,"o":6030,"h":6032.5,"l":6029.5,"c":6032,"t":6032.4,"k":6038.2,"a":6045,"b":6042.6,"sk":29.5,"sd":39.6},
{"i":190,"o":6031.5,"h":6033,"l":6030,"c":6033,"t":6032.4,"k":6036.7,"a":6044.7,"b":6043.5,"sk":33.6,"sd":38.5},
{"i":191,"o":6032.5,"h":6033.5,"l":6032.5,"c":6032.5,"t":6032.4,"k":6036.6,"a":6044.2,"b":6043.6,"sk":49.9,"sd":38.7},
{"i":192,"o":6032.5,"h":6033,"l":6029.5,"c":6032.5,"t":6032.4,"k":6036.6,"a":6044.2,"b":6043.6,"sk":52.5,"sd":40.2},
{"i":193,"o":6032,"h":6032.5,"l":6030,"c":6031.5,"t":6032.2,"k":6035.6,"a":6044.2,"b":6043.6,"sk":44.1,"sd":42.3},
{"i":194,"o":6031.5,"h":6033,"l":6030,"c":6030.5,"t":6031.5,"k":6035.4,"a":6043.8,"b":6043.6,"sk":33.8,"sd":41.5},
{"i":195,"o":6030.5,"h":6030.5,"l":6025.5,"c":6026.5,"t":6028.7,"k":6032.8,"a":6043.7,"b":6043.6,"sk":22.1,"sd":40.2},
{"i":196,"o":6026.5,"h":6026.5,"l":6019,"c":6019.5,"t":6026.3,"k":6029.1,"a":6043.2,"b":6043.6,"sk":9.9,"sd":32.5},
{"i":197,"o":6019,"h":6021,"l":6017,"c":6020.5,"t":6025.7,"k":6026.8,"a":6042.2,"b":6043.7,"sk":10.6,"sd":24},
{"i":198,"o":6020,"h":6021.5,"l":6016.5,"c":6020.5,"t":6025.5,"k":6026.7,"a":6041.4,"b":6045.8,"sk":14.5,"sd":18.5},
{"i":199,"o":6020,"h":6021.5,"l":6020,"c":6021,"t":6025.5,"k":6026.7,"a":6040.9,"b":6046.7,"sk":21.3,"sd":15.5},
{"i":200,"o":6021,"h":6021,"l":6016.5,"c":6016.5,"t":6025.5,"k":6026.7,"a":6040.9,"b":6046.7,"sk":15.1,"sd":15},
{"i":201,"o":6016,"h":6017,"l":6013.5,"c":6017,"t":6024.5,"k":6024.5,"a":6040.9,"b":6046.7,"sk":13.9,"sd":14.9},
{"i":202,"o":6016.5,"h":6018,"l":6015.5,"c":6018,"t":6023.9,"k":6024.4,"a":6040.4,"b":6046.7,"sk":12.7,"sd":15.4},
{"i":203,"o":6018,"h":6018.5,"l":6015.5,"c":6016.5,"t":6021.9,"k":6024.4,"a":6040,"b":6046.7,"sk":17.4,"sd":15.8},
{"i":204,"o":6017,"h":6017,"l":6010.5,"c":6013.5,"t":6018.7,"k":6023,"a":6039.3,"b":6048.4,"sk":16.3,"sd":15.3},
{"i":205,"o":6014,"h":6020,"l":6012.5,"c":6013,"t":6015.1,"k":6022.8,"a":6038.8,"b":6048.1,"sk":12.2,"sd":13.8},
{"i":206,"o":6013.5,"h":6014,"l":5999.5,"c":5999.5,"t":6010.3,"k":6017.5,"a":6036.9,"b":6046.9,"sk":7.7,"sd":12.7},
{"i":207,"o":5999.5,"h":6002,"l":5997,"c":6002,"t":6009.3,"k":6016.3,"a":6036.6,"b":6046.7,"sk":8.1,"sd":12.4},
{"i":208,"o":6002,"h":6006.5,"l":6000,"c":6003.5,"t":6008.9,"k":6016.2,"a":6036.6,"b":6046.7,"sk":10.8,"sd":11.5},
{"i":209,"o":6003.5,"h":6013.5,"l":6003,"c":6013,"t":6008.5,"k":6016.2,"a":6036.6,"b":6046.7,"sk":29.5,"sd":16},
{"i":210,"o":6013.5,"h":6016.5,"l":6011,"c":6015.5,"t":6008.5,"k":6016.2,"a":6036.2,"b":6046.7,"sk":50.2,"sd":22},
{"i":211,"o":6016,"h":6018,"l":6013,"c":6015.5,"t":6008.5,"k":6015.8,"a":6036.1,"b":6046.7,"sk":68.3,"sd":34},
{"i":212,"o":6016,"h":6017.5,"l":6014,"c":6016.5,"t":6008.5,"k":6015.75,"a":6036.1,"b":6046.7,"sk":76.8,"sd":47},
{"i":213,"o":6017.5,"h":6019,"l":6014,"c":6014.5,"t":6008.5,"k":6015.75,"a":6036.1,"b":6046.7,"sk":75.9,"sd":56},
{"i":214,"o":6015,"h":6017.5,"l":6012,"c":6012,"t":6008,"k":6015.75,"a":6035.9,"b":6045.8,"sk":72.575,"sd":68.718},
{"i":215,"a":6035.2,"b":6044.2},
{"i":216,"a":6034.5,"b":6043.1},
{"i":217,"a":6034.5,"b":6041.9},
{"i":218,"a":6034.5,"b":6041.9},
{"i":219,"a":6034,"b":6041.9},
{"i":220,"a":6033.7,"b":6041.2},
{"i":221,"a":6031.2,"b":6039.1},
{"i":222,"a":6027.9,"b":6035.9},
{"i":223,"a":6026.3,"b":6034.9},
{"i":224,"a":6026.1,"b":6034.7},
{"i":225,"a":6026.1,"b":6034.7},
{"i":226,"a":6026.1,"b":6034.7},
{"i":227,"a":6024.2,"b":6033.2},
{"i":228,"a":6024.1,"b":6033.2},
{"i":229,"a":6023,"b":6033.2},
{"i":230,"a":6020.7,"b":6030.7},
{"i":231,"a":6019.5,"b":6030.6},
{"i":232,"a":6014,"b":6024.9},
{"i":233,"a":6012.7,"b":6023.6},
{"i":234,"a":6012.5,"b":6023.6},
{"i":235,"a":6012.3,"b":6023.6},
{"i":236,"a":6012.1,"b":6023.6},
{"i":237,"a":6012.1,"b":6023.6},
{"i":238,"a":6012,"b":6023.6},
{"i":239,"a":6012,"b":6023.6},
{"i":240,"a":6011.88,"b":6023.25}
    ]
  },
  "vconcat": [
    {
      "width": 2940,
      "height": 21,
      "view": {"stroke": "#9aa6b2"},
      "data": {"values": [{}]},
      "layer": [
        {
          "mark": {"type": "rect", "color": {"gradient": "linear", "x1": 0, "y1": 0, "x2": 0, "y2": 1, "stops": [{"offset": 0, "color": "#eef8fc"}, {"offset": 1, "color": "#cfe5f0"}]}},
          "encoding": {
            "x": {"datum": 0, "type": "quantitative", "scale": {"domain": [0, 1]}, "axis": null},
            "x2": {"datum": 1},
            "y": {"datum": 0, "type": "quantitative", "scale": {"domain": [0, 1]}, "axis": null},
            "y2": {"datum": 1}
          }
        },
        {
          "mark": {"type": "text", "align": "left", "baseline": "middle", "dx": 24, "fontSize": 11, "fontWeight": "bold", "color": "#111111"},
          "encoding": {
            "x": {"datum": 0, "type": "quantitative"},
            "y": {"datum": 0.5, "type": "quantitative"},
            "text": {"value": "CAC40 FCE Full0120 5 minutes 6 012,00 (+0,01 %) 7 janv. 2020 16:23:59"}
          }
        },
        {
          "mark": {"type": "text", "align": "right", "baseline": "middle", "dx": -5, "fontSize": 11, "fontWeight": "bold", "color": "#111111"},
          "encoding": {
            "x": {"datum": 1, "type": "quantitative"},
            "y": {"datum": 0.5, "type": "quantitative"},
            "text": {"value": "Trading.ProRealTime.com"}
          }
        }
      ]
    },
    {
      "width": 2885,
      "height": 1969,
      "view": {"stroke": "#9aa6b2"},
      "data": {"name": "bars"},
      "layer": [
        {
          "data": {"values": [{}]},
          "mark": {"type": "rect", "color": {"gradient": "linear", "x1": 0, "y1": 0, "x2": 0, "y2": 1, "stops": [{"offset": 0, "color": "#fbfcff"}, {"offset": 1, "color": "#e1e8fb"}]}},
          "encoding": {
            "x": {"datum": -0.667, "type": "quantitative", "scale": {"domain": [-0.667, 309.5], "nice": false, "zero": false}, "axis": null, "title": null},
            "x2": {"datum": 309.5},
            "y": {"datum": 5935.6, "type": "quantitative", "title": null, "scale": {"domain": [5935.6, 6135.7], "nice": false, "zero": false},
              "axis": {"orient": "right", "title": null, "values": [5950, 5960, 5970, 5980, 5990, 6000, 6010, 6020, 6030, 6040, 6050, 6060, 6070, 6080, 6090, 6100, 6110, 6120, 6130], "format": ",",
                "labelFontWeight": {"condition": {"test": "datum.value % 50 === 0", "value": "bold"}, "value": "normal"}}},
            "y2": {"datum": 6135.7}
          }
        },
        {
          "data": {"values": [{}]},
          "mark": {"type": "rect", "color": {"gradient": "linear", "x1": 0, "y1": 0, "x2": 0, "y2": 1, "stops": [{"offset": 0, "color": "#f4f7ec"}, {"offset": 1, "color": "#eaefe3"}]}},
          "encoding": {
            "x": {"datum": -0.667, "type": "quantitative", "title": null},
            "x2": {"datum": 309.5},
            "y": {"datum": 5999.1, "type": "quantitative", "title": null},
            "y2": {"datum": 6056.5}
          }
        },
        {
          "data": {"values": [{}]},
          "mark": {"type": "text", "align": "right", "baseline": "alphabetic", "fontSize": 60, "font": "Liberation Sans", "color": "#e3e6ee"},
          "encoding": {
            "x": {"datum": 308, "type": "quantitative", "title": null},
            "y": {"datum": 6129.1, "type": "quantitative", "title": null},
            "text": {"value": "FCEXXXX, 5m"}
          }
        },
        {
          "mark": {"type": "area", "color": "#99998c", "opacity": 0.12},
          "encoding": {
            "x": {"field": "i", "type": "quantitative", "title": null},
            "y": {"field": "a", "type": "quantitative", "title": null},
            "y2": {"field": "b"}
          }
        },
        {
          "data": {"values": [{"v": 5999.1}, {"v": 6056.5}]},
          "mark": {"type": "rule", "color": "#000000", "strokeWidth": 2},
          "encoding": {"y": {"field": "v", "type": "quantitative", "title": null}}
        },
        {
          "data": {"values": [{"v": 6012}]},
          "mark": {"type": "rule", "color": "#1a9a3a", "strokeWidth": 1.5, "strokeDash": [6, 4]},
          "encoding": {"y": {"field": "v", "type": "quantitative", "title": null}}
        },
        {
          "mark": {"type": "line", "color": "#cf6f14", "strokeWidth": 2},
          "encoding": {
            "x": {"field": "i", "type": "quantitative", "title": null},
            "y": {"field": "a", "type": "quantitative", "title": null}
          }
        },
        {
          "mark": {"type": "line", "color": "#1ea0f0", "strokeWidth": 2},
          "encoding": {
            "x": {"field": "i", "type": "quantitative", "title": null},
            "y": {"field": "b", "type": "quantitative", "title": null}
          }
        },
        {
          "mark": {"type": "line", "color": "#1212b4", "strokeWidth": 2},
          "encoding": {
            "x": {"field": "i", "type": "quantitative", "title": null},
            "y": {"field": "k", "type": "quantitative", "title": null}
          }
        },
        {
          "mark": {"type": "line", "color": "#ff1414", "strokeWidth": 2},
          "encoding": {
            "x": {"field": "i", "type": "quantitative", "title": null},
            "y": {"field": "t", "type": "quantitative", "title": null}
          }
        },
        {
          "mark": {"type": "rule", "color": "#000000", "strokeWidth": 1},
          "encoding": {
            "x": {"field": "i", "type": "quantitative", "title": null},
            "y": {"field": "l", "type": "quantitative", "title": null},
            "y2": {"field": "h"}
          }
        },
        {
          "mark": {"type": "bar", "size": 6, "stroke": "#000000", "strokeWidth": 1, "orient": "vertical"},
          "encoding": {
            "x": {"field": "i", "type": "quantitative", "title": null},
            "y": {"field": "o", "type": "quantitative", "title": null},
            "y2": {"field": "c"},
            "fill": {"condition": {"test": "datum.c >= datum.o", "value": "#339a14"}, "value": "#ff2626"}
          }
        },
        {
          "mark": {"type": "line", "color": "#111111", "strokeWidth": 2},
          "encoding": {
            "x": {"field": "i", "type": "quantitative", "title": null},
            "y": {"field": "ch", "type": "quantitative", "title": null}
          }
        },
        {
          "data": {"values": [{"i": 135, "p": 6064.6}]},
          "mark": {"type": "point", "shape": "M-0.45,-1H0.45V-0.1H1L0,1L-1,-0.1H-0.45Z", "size": 150, "filled": true, "color": "#ee1a1a", "opacity": 1},
          "encoding": {
            "x": {"field": "i", "type": "quantitative", "title": null},
            "y": {"field": "p", "type": "quantitative", "title": null}
          }
        },
        {
          "data": {"values": [{"i": 207, "p": 5996.2}]},
          "mark": {"type": "point", "shape": "M-0.45,1H0.45V0.1H1L0,-1L-1,0.1H-0.45Z", "size": 150, "filled": true, "color": "#28a83a", "opacity": 1},
          "encoding": {
            "x": {"field": "i", "type": "quantitative", "title": null},
            "y": {"field": "p", "type": "quantitative", "title": null}
          }
        },
        {
          "data": {"values": [{}]},
          "mark": {"type": "text", "align": "left", "baseline": "bottom", "dy": -1, "fontSize": 11, "color": "#111111"},
          "encoding": {
            "x": {"datum": -0.45, "type": "quantitative", "title": null},
            "y": {"datum": 5935.6, "type": "quantitative", "title": null},
            "text": {"value": "© ProRealTime Trading Historique ajusté suite aux roulements d'échéances"}
          }
        },
        {
          "data": {"values": [{}]},
          "mark": {"type": "text", "align": "right", "baseline": "bottom", "dy": -2, "fontSize": 11, "color": "#1a9a3a"},
          "encoding": {
            "x": {"datum": 308.4, "type": "quantitative", "title": null},
            "y": {"datum": 6012, "type": "quantitative", "title": null},
            "text": {"value": "Clo J"}
          }
        },
        {
          "data": {"values": [{"v": 6023.25, "k": "B"}, {"v": 6015.75, "k": "K"}, {"v": 6008, "k": "T"}, {"v": 6012, "k": "G"}]},
          "mark": {"type": "point", "shape": "M-1,-0.304H1V0.304H-1Z", "size": 2116, "filled": true, "color": "#e8eef7", "stroke": "#98a2ad", "strokeWidth": 1, "opacity": 1},
          "encoding": {
            "x": {"datum": 312.6, "type": "quantitative", "title": null},
            "y": {"field": "v", "type": "quantitative", "title": null}
          }
        },
        {
          "data": {"values": [{"v": 6023.25, "k": "B"}, {"v": 6015.75, "k": "K"}, {"v": 6008, "k": "T"}, {"v": 6012, "k": "G"}]},
          "mark": {"type": "text", "align": "center", "baseline": "middle", "fontSize": 11},
          "encoding": {
            "x": {"datum": 312.6, "type": "quantitative", "title": null},
            "y": {"field": "v", "type": "quantitative", "title": null},
            "text": {"field": "v", "type": "quantitative", "format": ",.2f"},
            "fill": {"field": "k", "type": "nominal", "scale": {"domain": ["B", "K", "T", "G", "A"], "range": ["#1e9be6", "#1414c8", "#ff1a1a", "#1a9a3a", "#c86a10"]}, "legend": null}
          }
        },
        {
          "data": {"values": [{"v": 6011.88, "k": "A"}]},
          "mark": {"type": "point", "shape": "M-1,-0.304H1V0.304H-1Z", "size": 2116, "filled": true, "color": "#e8eef7", "stroke": "#98a2ad", "strokeWidth": 1, "opacity": 1, "yOffset": 8},
          "encoding": {
            "x": {"datum": 312.6, "type": "quantitative", "title": null},
            "y": {"field": "v", "type": "quantitative", "title": null}
          }
        },
        {
          "data": {"values": [{"v": 6011.88, "k": "A"}]},
          "mark": {"type": "text", "align": "center", "baseline": "middle", "fontSize": 11, "yOffset": 8},
          "encoding": {
            "x": {"datum": 312.6, "type": "quantitative", "title": null},
            "y": {"field": "v", "type": "quantitative", "title": null},
            "text": {"field": "v", "type": "quantitative", "format": ",.2f"},
            "fill": {"field": "k", "type": "nominal", "legend": null}
          }
        },
        {
          "data": {"values": [{"v": 6012}]},
          "mark": {"type": "point", "shape": "M-1,-0.304H1V0.304H-1Z", "size": 2116, "filled": true, "color": "#f9c800", "stroke": "#98a2ad", "strokeWidth": 1, "opacity": 1, "yOffset": -17},
          "encoding": {
            "x": {"datum": 312.6, "type": "quantitative", "title": null},
            "y": {"field": "v", "type": "quantitative", "title": null}
          }
        },
        {
          "data": {"values": [{"v": 6012}]},
          "mark": {"type": "text", "align": "center", "baseline": "middle", "fontSize": 11, "yOffset": -17, "color": "#000000"},
          "encoding": {
            "x": {"datum": 312.6, "type": "quantitative", "title": null},
            "y": {"field": "v", "type": "quantitative", "title": null},
            "text": {"field": "v", "type": "quantitative", "format": ",.2f"}
          }
        },
        {
          "data": {"values": [{"item": "Prix"}, {"item": "Ichimoku (9 26 52)"}, {"item": "Clôture (J)"}]},
          "mark": {"type": "point", "filled": true, "opacity": 0},
          "encoding": {
            "color": {"field": "item", "type": "nominal",
              "scale": {"domain": ["Prix", "Ichimoku (9 26 52)", "Clôture (J)"], "range": ["#2f9a14", "#1212b4", "#0a9a3a"]},
              "legend": {"orient": "top-left", "direction": "horizontal", "title": null, "offset": 1, "padding": 3, "fillColor": "#e9edf3", "strokeColor": "#9aa4b0",
                "labelFontSize": 11, "labelFont": "Liberation Sans", "labelColor": "#000000", "symbolType": "square", "symbolSize": 90, "symbolOpacity": 1, "symbolStrokeWidth": 0, "columnPadding": 10, "labelOffset": 3}}
          }
        }
      ]
    },
    {
      "width": 2885,
      "height": 331,
      "view": {"stroke": "#9aa6b2", "fill": "#dce6fc"},
      "data": {"name": "bars"},
      "layer": [
        {
          "data": {"values": [{"v": 80}, {"v": 20}]},
          "mark": {"type": "rule", "color": "#2b2be0", "strokeWidth": 1.5},
          "encoding": {
            "y": {"field": "v", "type": "quantitative", "title": null, "scale": {"domain": [-5.3, 110.9], "nice": false, "zero": false},
              "axis": {"orient": "right", "title": null, "values": [10, 20, 30, 40, 50, 60, 80, 90, 100],
                "labelFontWeight": {"condition": {"test": "datum.value === 100 || datum.value === 50", "value": "bold"}, "value": "normal"}}}
          }
        },
        {
          "mark": {"type": "line", "color": "#f07a7a", "strokeWidth": 1.4, "strokeDash": [3, 3]},
          "encoding": {
            "x": {"field": "i", "type": "quantitative", "title": null, "scale": {"domain": [-0.667, 309.5], "nice": false, "zero": false},
              "axis": {"title": null, "values": [6, 18, 30, 42, 54, 66, 78, 90, 102, 114, 126, 138, 150, 162, 174, 186, 198, 210, 222, 234, 246, 258, 270, 282, 294, 306],
                "labelExpr": "datum.value == 114 ? '07' : datum.value == 282 ? '08' : (datum.value == 126 || datum.value == 294) ? '09:00' : (datum.value < 114 ? 13 + (datum.value - 6) / 12 : datum.value < 282 ? 8 + (datum.value - 114) / 12 : 8 + (datum.value - 282) / 12) + ':00'",
                "labelFontWeight": {"condition": {"test": "datum.value == 114 || datum.value == 282", "value": "bold"}, "value": "normal"},
                "labelPadding": 0}},
            "y": {"field": "sd", "type": "quantitative", "title": null}
          }
        },
        {
          "mark": {"type": "line", "color": "#1a1a1a", "strokeWidth": 1.3},
          "encoding": {
            "x": {"field": "i", "type": "quantitative", "title": null},
            "y": {"field": "sk", "type": "quantitative", "title": null}
          }
        },
        {
          "data": {"values": [{"v": 72.575, "k": "K"}, {"v": 68.718, "k": "D"}]},
          "mark": {"type": "point", "shape": "M-1,-0.4H1V0.4H-1Z", "size": 1225, "filled": true, "color": "#e3eaf6", "stroke": "#98a2ad", "strokeWidth": 1, "opacity": 1},
          "encoding": {
            "x": {"datum": 312, "type": "quantitative", "title": null},
            "y": {"field": "v", "type": "quantitative", "title": null}
          }
        },
        {
          "data": {"values": [{"v": 72.575, "k": "K"}, {"v": 68.718, "k": "D"}]},
          "mark": {"type": "text", "align": "center", "baseline": "middle", "fontSize": 11},
          "encoding": {
            "x": {"datum": 312, "type": "quantitative", "title": null},
            "y": {"field": "v", "type": "quantitative", "title": null},
            "text": {"field": "v", "type": "quantitative", "format": ".3f"},
            "fill": {"field": "k", "type": "nominal", "scale": {"domain": ["K", "D"], "range": ["#1a1a1a", "#e86a6a"]}, "legend": null}
          }
        },
        {
          "data": {"values": [{"item": "Stochastique (14 3 5)"}]},
          "mark": {"type": "point", "filled": true, "opacity": 0},
          "encoding": {
            "color": {"field": "item", "type": "nominal", "scale": {"domain": ["Stochastique (14 3 5)"], "range": ["#2a1414"]},
              "legend": {"orient": "top-left", "title": null, "offset": 1, "padding": 3, "fillColor": "#e6ebf3", "strokeColor": "#9aa4b0",
                "labelFontSize": 11, "labelFont": "Liberation Sans", "labelColor": "#000000", "symbolType": "square", "symbolSize": 90, "symbolOpacity": 1, "symbolStrokeWidth": 0, "labelOffset": 3}}
          }
        }
      ]
    }
  ]
}
